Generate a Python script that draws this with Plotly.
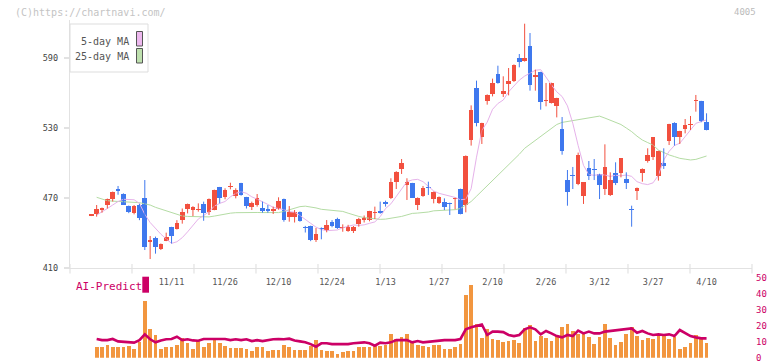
import plotly.graph_objects as go

W, H = 772, 361

# ---------------- data ----------------
tick_idx = [15, 25, 35, 45, 55, 65, 75, 85, 95, 105, 115]
tick_labels = ["11/11", "11/26", "12/10", "12/24", "1/13", "1/27",
               "2/10", "2/26", "3/12", "3/27", "4/10"]

open_ = [455, 456.5, 459.7, 464.3, 469.4, 477.4, 473.4, 463.1, 456.8, 464,
         470, 432, 436, 426.3, 433.4, 445, 443.3, 451.2, 460.3, 459.7,
         460, 464.9, 458.3, 459.7, 479.2, 471.1, 479.5, 471.7, 482.6, 470.6,
         462.6, 464, 461.7, 460.6, 459.1, 460.6, 469.1, 454, 454, 458.3,
         445.5, 446, 434.3, 444.6, 442.7, 449.1, 452, 444, 442, 442,
         447.7, 451.1, 451.1, 457, 458.9, 466.3, 470.3, 484, 494.9, 481.4,
         482.6, 464, 471.7, 479, 469.1, 465.4, 466.9, 465.2, 469.4, 477.7,
         464.3, 520, 564.3, 522.3, 553.4, 559.4, 576.3, 559.4, 568, 570.6,
         590, 587.1, 600, 573.7, 578, 553, 551.4, 548.6, 529.1, 485.1,
         490, 481.7, 471.7, 495.4, 494.3, 490.6, 477.7, 472.6, 491.1, 491.1,
         486.3, 460.3, 476.3, 491.7, 501.7, 505.4, 489.1, 499.7, 519.1, 534,
         522, 528.9, 532.3, 553.1, 553.1, 534.9]

close = [455.5, 460.6, 461.4, 469.1, 475.1, 476.3, 464.3, 458.3, 463.1, 452.6,
         427.7, 433.7, 428.3, 430.6, 436.9, 437.7, 448.7, 458, 464.9, 462.6,
         460.6, 456.8, 469.4, 476.9, 469.7, 476.9, 480, 476.9, 472.6, 463.1,
         465.4, 469.7, 459.1, 459.1, 460.6, 467.4, 451.1, 457.7, 457.7, 450.5,
         444.4, 434, 438.9, 443.5, 447, 446.3, 444.3, 444.8, 444.9, 445,
         451.7, 452.6, 458.9, 457.6, 457.1, 464.6, 484, 492.6, 500.3, 483.4,
         470.3, 470.3, 478.9, 478.3, 475.4, 471.1, 462.6, 464.6, 470, 456.3,
         506.3, 545.1, 534.3, 534.3, 558.6, 568.6, 568.6, 562, 570, 584.3,
         586.3, 590, 567.1, 575, 552, 554, 568.6, 555.7, 510, 474.9,
         488.9, 506.9, 483.4, 489.1, 493.7, 481.1, 496.9, 485.4, 483.1, 504,
         482.6, 459.4, 478.9, 494.9, 506.9, 522, 510.3, 497.7, 533.4, 522,
         527.4, 532.6, 532.9, 553.7, 536, 528.3]

high = [456, 464, 461.8, 469.5, 475.5, 480.3, 474, 463.5, 464, 465,
        485.4, 437.4, 436.9, 431, 440.3, 445.3, 451, 461, 465.2, 463,
        465.4, 466.9, 469.6, 477.2, 479.5, 478.3, 483.1, 478.3, 483, 471,
        466.9, 473.4, 466.9, 464, 462.6, 470.6, 469.5, 463.1, 459.7, 458.5,
        446.1, 446.3, 444.3, 444.8, 451.1, 451, 453.1, 447.4, 447, 446,
        453, 455, 459, 462.6, 466.9, 467.7, 486.9, 493, 503.4, 486.9,
        483, 470.5, 480.3, 484, 475.5, 471.3, 469.7, 466, 470.2, 478,
        506.5, 549.4, 570.6, 534.5, 558.8, 572.3, 583.4, 574.3, 581.4, 584.5,
        593.4, 619.4, 611.4, 580, 578.2, 568.6, 568.8, 555.9, 539.4, 494,
        496.6, 508.9, 483.6, 501.7, 503.4, 490.8, 516, 492, 500.6, 504.2,
        492, 463.4, 479, 495.4, 512.6, 522.2, 510.5, 512.6, 533.6, 534.9,
        527.6, 537.7, 540.3, 558.3, 553.3, 542.6]

low = [454.5, 454, 457.4, 461, 467, 472.8, 464, 457, 456, 451,
       425.4, 417.7, 422.3, 425.4, 433, 431, 443, 448, 456.8, 454.5,
       458.3, 450.5, 455.4, 459.5, 465.4, 468.9, 477.4, 469.7, 472, 461,
       459.7, 462.6, 457.4, 457.4, 456.3, 460, 449.7, 449.7, 449, 449.7,
       440.4, 433, 432.3, 434.6, 440.6, 444.9, 443.5, 441.1, 441, 440,
       445.4, 449, 450, 452, 456.5, 462.6, 469.1, 477.7, 490.6, 468.3,
       470, 459.7, 471, 472.6, 465.4, 464.9, 459.7, 455.4, 460.3, 456,
       457.7, 514.9, 531.4, 516.3, 550, 557.1, 568, 556.6, 558, 569.4,
       582, 586.9, 562, 562, 545.7, 548.6, 551, 539.1, 507.1, 463.4,
       477.7, 481, 464.9, 485.4, 485.4, 469.1, 472.6, 471.7, 481.1, 487.7,
       477.7, 445.4, 468.3, 484, 500.3, 502.6, 484.9, 494.9, 515.4, 514.9,
       516.3, 525.4, 528.3, 544, 534.9, 528]

ma5 = [None, 455.4, 458, 461, 464, 467, 468.9, 469, 468.5, 465.4,
       456, 449, 444, 439, 435, 431.1, 432.5, 436, 441, 447,
       452, 455, 458.3, 463, 465.4, 467, 471, 474, 475.4, 474,
       471, 469, 467, 464.5, 462, 461, 460, 458.3, 457.8, 455,
       452, 448.3, 445, 443, 442, 442, 442.6, 444.5, 446, 446.9,
       446.5, 447, 448.3, 449.5, 454, 461, 465, 471, 478, 484,
       485.5, 486, 484, 480, 476, 474, 473, 472, 470.5, 468.5,
       469, 478, 505, 528, 535, 546, 551, 554, 561, 566,
       571, 574.5, 577, 579.5, 580, 573, 567, 561, 557, 549,
       534, 515, 498, 490, 489.5, 490, 489.7, 488.5, 489.5, 489,
       489.7, 488.5, 484, 482.3, 481.5, 483, 489.5, 502.6, 510, 515,
       517, 522.6, 528.3, 534, 535.5, 536.9]

ma25 = [None, 470.6, 469, 467.7, 467.3, 467, 466.9, 466.7, 466.3, 466,
        465, 464, 462, 460.5, 459.5, 458, 456, 454.6, 454.2, 454,
        454, 454, 453.8, 454.5, 455.5, 456.5, 457, 457.4, 457.6, 457.7,
        457.7, 457.6, 457.5, 457.4, 457.2, 457.5, 458.5, 460, 461.5, 462.6,
        463, 462.5, 461.5, 460.3, 459.7, 459.3, 459, 458.5, 457, 455.4,
        454.2, 453.2, 452.5, 451.8, 451.7, 451.9, 452.5, 453.3, 454.2, 455.5,
        456.8, 457.1, 457.4, 458, 459, 459.3, 459.5, 459.7, 460, 461,
        464, 467, 471.5, 476, 480.5, 485, 489.7, 493.5, 498, 502.5,
        507.5, 512.6, 516, 519.5, 523, 526, 529.5, 533, 534.8, 535.6,
        536.5, 537.5, 538.3, 539, 539.6, 540.2, 538.5, 536.8, 535.3, 533,
        530, 526.9, 523, 519.7, 517.5, 515.4, 511.1, 508.8, 506.9, 505.5,
        504, 503.3, 502.6, 503.1, 504.5, 506]

volume = [None, 6.9, 6.9, 7.9, 6.9, 6.9, 6.5, 7.3, 5.6, 10,
          35.4, 17.9, 14.4, 5.6, 6.5, 6.9, 7.9, 12.1, 9.4, 5.6,
          11, 6.9, 9.4, 11, 8.9, 7.3, 6.2, 6.2, 6.2, 5.6,
          4.2, 6.9, 6.5, 4.4, 4.6, 5, 7.9, 6.9, 5, 5,
          5, 7.3, 11, 5, 4.2, 4.2, 2.5, 3.5, 4.2, 4.2,
          6.9, 6.9, 6.9, 8.3, 7.3, 8, 14.6, 11.5, 13.1, 14.8,
          10, 7.7, 7.3, 6.9, 7.9, 7.9, 5.4, 5.4, 6.9, 8.5,
          39.2, 45.4, 21, 12.5, 17.7, 11.7, 11, 10, 10.6, 11,
          9.4, 18.3, 20.4, 10.4, 13.5, 12.5, 10.6, 14.2, 19, 21,
          16.9, 14.8, 15.6, 13.1, 8.5, 13.1, 21, 12.5, 7.9, 10,
          14.8, 19.4, 13.5, 11, 12.1, 11.7, 14.8, 14.2, 11.7, 12.7,
          5.6, 6.9, 9.4, 14.2, 12.1, 9.4]

ai_predict = [None, 11.7, 11, 11, 11.7, 10.2, 9.8, 9.8, 9.4, 11,
              14.6, 11.5, 9.6, 10.8, 11.5, 11.7, 13.1, 11, 11.5, 10.8,
              10.6, 11.7, 11.7, 11.9, 11.7, 11.7, 11, 11.5, 11, 11.5,
              10.4, 11, 10.4, 11, 11.5, 11.7, 11.5, 11.9, 10.8, 10.2,
              9.6, 8.5, 6.9, 9, 9, 8.5, 8.5, 8.5, 8.5, 9,
              9.4, 9.6, 9, 7.5, 9.4, 9, 9.6, 11, 11, 11,
              9.6, 10.4, 9.6, 10, 10.4, 11, 11, 11, 11, 11.7,
              17.7, 19, 19.8, 20.8, 14.2, 16.3, 16.3, 16, 14.2, 13.5,
              14.2, 17.7, 19, 17.7, 14.6, 16.7, 15.2, 13.5, 12.7, 14.2,
              13.5, 16.9, 15.2, 16.3, 15.2, 15.2, 16.3, 16.7, 17.3, 17.7,
              18.3, 18.3, 15.6, 16.7, 15.2, 14.2, 14.6, 14.2, 14.6, 13.5,
              17.3, 15.2, 13.5, 12.7, 12.1, 12.1]

# ---------------- styling ----------------
RED = "#F2503F"
BLUE = "#3F78EE"
MONO = "DejaVu Sans Mono"
AXIS_GREY = "#e2e2e2"
MAGENTA = "#CC0066"

idx = list(range(len(open_)))


def px_x(p):
    """window pixel -> paper fraction"""
    return p / W


def px_y(p):
    return 1 - p / H


x_dom = [px_x(70), px_x(752)]
x_rng = [(70 - 91.3) / 5.35, (752 - 91.3) / 5.35]

fig = go.Figure()

# moving averages
fig.add_trace(go.Scatter(x=idx, y=ma25, mode="lines", line=dict(color="#B4DCA4", width=1),
                         hoverinfo="skip", showlegend=False, xaxis="x", yaxis="y"))
fig.add_trace(go.Scatter(x=idx, y=ma5, mode="lines", line=dict(color="#E6B2EA", width=1),
                         hoverinfo="skip", showlegend=False, xaxis="x", yaxis="y"))

# candle bodies
colors = [RED if c >= o else BLUE for o, c in zip(open_, close)]
bases = [min(o, c) for o, c in zip(open_, close)]
heights = [max(abs(c - o), 1.0) for o, c in zip(open_, close)]
fig.add_trace(go.Bar(x=idx, y=heights, base=bases, width=0.87,
                     marker=dict(color=colors, line=dict(width=0)),
                     showlegend=False, xaxis="x", yaxis="y"))

# wicks
for col in (RED, BLUE):
    wx, wy = [], []
    for i in idx:
        if colors[i] == col:
            wx += [i, i, None]
            wy += [low[i], high[i], None]
    fig.add_trace(go.Scatter(x=wx, y=wy, mode="lines", line=dict(color=col, width=1),
                             hoverinfo="skip", showlegend=False, xaxis="x", yaxis="y"))

# AI-Predict panel
fig.add_trace(go.Bar(x=idx, y=volume, width=0.69, marker=dict(color="#F2963F", line=dict(width=0)),
                     showlegend=False, xaxis="x2", yaxis="y2"))
fig.add_trace(go.Scatter(x=idx, y=ai_predict, mode="lines", line=dict(color=MAGENTA, width=2.6),
                         showlegend=False, xaxis="x2", yaxis="y2"))

shapes = []
# legend box
shapes.append(dict(type="rect", xref="paper", yref="paper", x0=px_x(70), x1=px_x(148),
                   y0=px_y(72), y1=px_y(24), line=dict(color="#dddddd", width=1),
                   fillcolor="white", layer="above"))
shapes.append(dict(type="rect", xref="paper", yref="paper", x0=px_x(136.5), x1=px_x(142.5),
                   y0=px_y(46), y1=px_y(31.5), line=dict(color="#555555", width=1),
                   fillcolor="#EDB8EE", layer="above"))
shapes.append(dict(type="rect", xref="paper", yref="paper", x0=px_x(136.5), x1=px_x(142.5),
                   y0=px_y(63), y1=px_y(48.5), line=dict(color="#555555", width=1),
                   fillcolor="#BEE0AE", layer="above"))
# x tick marks (11 equal divisions)
for k in range(12):
    xp = 70 + k * (752 - 70) / 11
    shapes.append(dict(type="line", xref="paper", yref="paper", x0=px_x(xp), x1=px_x(xp),
                       y0=px_y(273.5), y1=px_y(264), line=dict(color=AXIS_GREY, width=1.2)))
# AI-Predict marker
shapes.append(dict(type="rect", xref="paper", yref="paper", x0=px_x(142.3), x1=px_x(149),
                   y0=px_y(292.7), y1=px_y(276.7), line=dict(width=0), fillcolor=MAGENTA))

annotations = [
    dict(text="(C)https://chartnavi.com/", x=px_x(13), y=px_y(12), xref="paper", yref="paper",
         xanchor="left", yanchor="middle", showarrow=False,
         font=dict(family=MONO, size=10, color="#c4c4c4")),
    dict(text="4005", x=px_x(758), y=px_y(12), xref="paper", yref="paper",
         xanchor="right", yanchor="middle", showarrow=False,
         font=dict(family=MONO, size=9, color="#bbbbbb")),
    dict(text="5-day MA", x=px_x(131), y=px_y(41.5), xref="paper", yref="paper",
         xanchor="right", yanchor="middle", showarrow=False,
         font=dict(family=MONO, size=10, color="#555555")),
    dict(text="25-day MA", x=px_x(131), y=px_y(56.5), xref="paper", yref="paper",
         xanchor="right", yanchor="middle", showarrow=False,
         font=dict(family=MONO, size=10, color="#555555")),
    dict(text="AI-Predict", x=px_x(74), y=px_y(286), xref="paper", yref="paper",
         xanchor="left", yanchor="middle", showarrow=False,
         font=dict(family=MONO, size=11, color=MAGENTA)),
]

fig.update_layout(
    width=W, height=H, autosize=False,
    margin=dict(l=0, r=0, t=0, b=0, autoexpand=False),
    paper_bgcolor="white", plot_bgcolor="white",
    bargap=0, barmode="overlay",
    showlegend=False,
    xaxis=dict(domain=x_dom, range=x_rng, anchor="y", showline=True, linecolor=AXIS_GREY,
               linewidth=1.2, showgrid=False, zeroline=False, ticks="", automargin=False,
               tickvals=tick_idx, ticktext=tick_labels, ticklabelstandoff=6,
               tickfont=dict(family=MONO, size=8.5, color="#555555")),
    yaxis=dict(domain=[px_y(268), px_y(20)], range=[410, 410 + 248 / 1.1667], anchor="x",
               showline=True, linecolor=AXIS_GREY, linewidth=1.2, showgrid=False, zeroline=False,
               ticks="outside", ticklen=5, tickcolor=AXIS_GREY, tickwidth=1.2, automargin=False,
               tickvals=[410, 470, 530, 590], ticklabelstandoff=4,
               tickfont=dict(family=MONO, size=8.5, color="#444444")),
    xaxis2=dict(domain=x_dom, range=x_rng, anchor="y2", matches="x", visible=False,
                automargin=False),
    yaxis2=dict(domain=[px_y(357.7), px_y(277.7)], range=[0, 50], anchor="x2", side="right",
                showline=False, showgrid=False, zeroline=False, ticks="", automargin=False,
                tickvals=[0, 10, 20, 30, 40, 50], ticklabelstandoff=3,
                ticklabeloverflow="allow",
                tickfont=dict(family=MONO, size=9, color=MAGENTA)),
    shapes=shapes,
    annotations=annotations,
)

# place the fixed-size figure flush with the window's top-left corner
fig.write_html("out.html",
               config={"displayModeBar": False, "staticPlot": True},
               post_script="document.body.style.margin='0';document.body.style.overflow='hidden';")
